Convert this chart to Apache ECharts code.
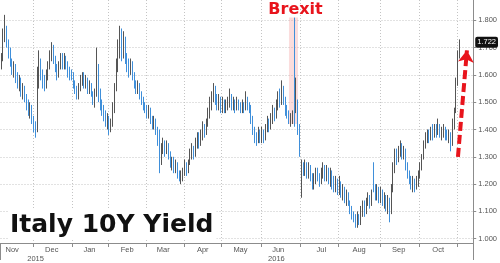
<!DOCTYPE html>
<html><head><meta charset="utf-8">
<script src="https://cdn.jsdelivr.net/npm/echarts@6/dist/echarts.min.js"></script>
<style>html,body{margin:0;padding:0;background:#fff}#c{width:500px;height:263px}</style>
</head><body><div id="c"></div>
<script>
// ---- categories: trading days (weekends and TARGET holidays skipped) ----
const startDate = '2015-11-05';
const endDate = '2016-11-11';
const holidays = ['2015-12-25', '2016-01-01', '2016-03-25', '2016-03-28'];
const monthLabelDates = ['2015-11-13','2015-12-15','2016-01-15','2016-02-15','2016-03-14','2016-04-15','2016-05-16','2016-06-14','2016-07-18','2016-08-16','2016-09-15','2016-10-17'];
const monthLabelNames = ['Nov','Dec','Jan','Feb','Mar','Apr','May','Jun','Jul','Aug','Sep','Oct'];
const yearLabelDates = ['2015-12-02', '2016-06-13'];
const yearLabelNames = ['2015', '2016'];
const yearBoundaryDate = '2016-01-04';
const yTicks = [1.0, 1.1, 1.2, 1.3, 1.4, 1.5, 1.6, 1.7, 1.8];
const yMin = 0.9842, yMax = 1.8744;
const brexitStart = '2016-06-22', brexitEnd = '2016-06-29';
const brexitLow = 1.42, brexitHigh = 1.81;
const arrowFrom = ['2016-11-01', 1.30];
const arrowTo = ['2016-11-08', 1.69];

// ---- Italy 10Y yield daily candles ----
const yieldOpen = [
1.63,1.66,1.74,1.77,1.72,1.68,1.65,1.62,1.63,1.59,1.57,1.58,1.54,1.55,1.51,1.49,1.47,1.48,
1.44,1.41,1.40,1.58,1.64,1.60,1.57,1.56,1.60,1.63,1.67,1.70,1.66,1.63,1.60,1.63,1.66,1.64,1.66,1.63,1.61,1.60,
1.59,1.57,1.55,1.52,1.55,1.58,1.60,1.57,1.58,1.55,1.56,1.53,1.51,1.53,1.62,1.54,1.50,1.47,1.45,1.43,
1.44,1.41,1.42,1.48,1.55,1.63,1.70,1.74,1.68,1.72,1.67,1.63,1.62,1.64,1.60,1.57,1.55,1.56,1.53,1.51,1.49,
1.48,1.46,1.47,1.44,1.42,1.43,1.40,1.37,1.29,1.33,1.35,1.32,1.34,1.31,1.28,1.29,1.26,1.27,1.24,1.22,1.23,
1.25,1.27,1.25,1.28,1.31,1.33,1.31,1.35,1.37,1.35,1.38,1.41,1.39,1.42,1.46,1.49,1.52,1.55,1.51,1.49,1.51,
1.48,1.50,1.47,1.49,1.50,1.52,1.49,1.50,1.48,1.50,1.49,1.47,1.49,1.48,1.51,1.49,1.48,1.44,1.40,1.38,1.36,1.39,
1.37,1.39,1.37,1.40,1.43,1.41,1.44,1.47,1.45,1.49,1.52,1.50,1.54,1.51,1.47,1.45,1.43,1.44,1.45,1.47,1.50,1.40,
1.24,1.27,1.25,1.27,1.24,1.26,1.23,1.20,1.22,1.25,1.23,1.21,1.24,1.26,1.23,1.25,1.22,1.24,1.21,1.19,1.21,
1.18,1.20,1.17,1.18,1.15,1.16,1.13,1.11,1.09,1.07,1.06,1.08,1.06,1.10,1.12,1.10,1.13,1.15,1.13,1.27,1.19,1.16,1.18,
1.15,1.17,1.14,1.15,1.12,1.14,1.10,1.18,1.26,1.31,1.29,1.32,1.34,1.31,1.32,1.27,1.24,1.22,1.20,1.21,1.19,1.21,
1.23,1.26,1.30,1.34,1.37,1.39,1.37,1.40,1.38,1.41,1.39,1.41,1.38,1.39,1.40,1.38,1.37,1.38,1.35,1.42,1.47,1.57,1.67];
const yieldClose = [
1.66,1.74,1.77,1.72,1.68,1.65,1.62,1.63,1.59,1.57,1.58,1.54,1.55,1.51,1.49,1.47,1.48,1.44,
1.41,1.40,1.58,1.64,1.60,1.57,1.56,1.60,1.63,1.67,1.70,1.66,1.63,1.60,1.63,1.66,1.64,1.66,1.63,1.61,1.60,1.59,
1.57,1.55,1.52,1.55,1.58,1.60,1.57,1.58,1.55,1.56,1.53,1.51,1.53,1.62,1.54,1.50,1.47,1.45,1.43,1.44,
1.41,1.42,1.48,1.55,1.63,1.70,1.74,1.68,1.72,1.67,1.63,1.62,1.64,1.60,1.57,1.55,1.56,1.53,1.51,1.49,1.48,
1.46,1.47,1.44,1.42,1.43,1.40,1.37,1.29,1.33,1.35,1.32,1.34,1.31,1.28,1.29,1.26,1.27,1.24,1.22,1.23,1.25,
1.27,1.25,1.28,1.31,1.33,1.31,1.35,1.37,1.35,1.38,1.41,1.39,1.42,1.46,1.49,1.52,1.55,1.51,1.49,1.51,1.48,
1.50,1.47,1.49,1.50,1.52,1.49,1.50,1.48,1.50,1.49,1.47,1.49,1.48,1.51,1.49,1.48,1.44,1.40,1.38,1.36,1.39,1.37,
1.39,1.37,1.40,1.43,1.41,1.44,1.47,1.45,1.49,1.52,1.50,1.54,1.51,1.47,1.45,1.43,1.44,1.45,1.42,1.56,1.40,1.32,
1.27,1.25,1.27,1.24,1.26,1.23,1.20,1.22,1.25,1.23,1.21,1.24,1.26,1.23,1.25,1.22,1.24,1.21,1.19,1.21,1.18,
1.20,1.17,1.18,1.15,1.16,1.13,1.11,1.09,1.07,1.06,1.08,1.06,1.10,1.12,1.10,1.13,1.15,1.13,1.16,1.19,1.16,1.18,1.15,
1.17,1.14,1.15,1.12,1.14,1.09,1.18,1.26,1.31,1.29,1.32,1.34,1.31,1.32,1.27,1.24,1.22,1.20,1.21,1.19,1.21,1.23,
1.26,1.30,1.34,1.37,1.39,1.37,1.40,1.38,1.41,1.39,1.41,1.38,1.39,1.40,1.38,1.37,1.38,1.35,1.42,1.47,1.56,1.66,1.722];
const yieldLow = [
1.62,1.65,1.72,1.70,1.66,1.63,1.60,1.59,1.57,1.55,1.54,1.52,1.51,1.50,1.47,1.45,1.44,1.42,
1.39,1.37,1.39,1.55,1.58,1.55,1.54,1.55,1.58,1.62,1.65,1.64,1.61,1.58,1.59,1.62,1.62,1.62,1.62,1.59,1.58,1.58,
1.55,1.53,1.51,1.51,1.54,1.56,1.55,1.55,1.53,1.53,1.52,1.49,1.48,1.52,1.50,1.47,1.45,1.43,1.41,1.40,
1.38,1.39,1.41,1.46,1.54,1.61,1.66,1.65,1.66,1.64,1.61,1.59,1.60,1.58,1.55,1.53,1.53,1.51,1.49,1.47,1.46,
1.44,1.44,1.42,1.40,1.40,1.38,1.34,1.24,1.27,1.31,1.30,1.31,1.29,1.26,1.25,1.24,1.24,1.22,1.21,1.20,1.21,
1.23,1.23,1.24,1.27,1.29,1.29,1.30,1.33,1.33,1.34,1.36,1.37,1.38,1.41,1.44,1.47,1.50,1.49,1.47,1.47,1.46,
1.46,1.46,1.46,1.47,1.48,1.47,1.47,1.46,1.47,1.47,1.46,1.46,1.46,1.47,1.47,1.46,1.42,1.38,1.35,1.34,1.35,1.35,
1.35,1.35,1.36,1.39,1.39,1.40,1.42,1.43,1.44,1.47,1.48,1.49,1.49,1.45,1.44,1.42,1.41,1.42,1.41,1.46,1.38,1.30,
1.15,1.23,1.23,1.22,1.22,1.21,1.18,1.18,1.20,1.21,1.19,1.20,1.22,1.21,1.21,1.20,1.19,1.18,1.17,1.17,1.16,
1.16,1.15,1.14,1.13,1.12,1.12,1.09,1.07,1.06,1.04,1.04,1.05,1.05,1.08,1.08,1.09,1.12,1.11,1.12,1.17,1.14,1.14,1.13,
1.13,1.12,1.11,1.10,1.09,1.06,1.09,1.17,1.24,1.27,1.28,1.30,1.29,1.29,1.25,1.22,1.20,1.18,1.17,1.17,1.18,1.19,
1.22,1.25,1.29,1.33,1.35,1.35,1.36,1.36,1.37,1.37,1.38,1.37,1.36,1.37,1.36,1.36,1.35,1.32,1.34,1.40,1.46,1.56,1.66];
const yieldHigh = [
1.68,1.77,1.82,1.78,1.73,1.70,1.66,1.65,1.64,1.61,1.60,1.59,1.57,1.56,1.53,1.51,1.50,1.49,
1.45,1.43,1.63,1.69,1.66,1.62,1.60,1.62,1.65,1.69,1.72,1.71,1.67,1.64,1.65,1.68,1.68,1.68,1.67,1.65,1.63,1.62,
1.61,1.58,1.56,1.57,1.60,1.61,1.61,1.60,1.59,1.58,1.57,1.54,1.55,1.70,1.64,1.55,1.51,1.49,1.47,1.46,
1.45,1.44,1.50,1.57,1.66,1.73,1.78,1.77,1.76,1.74,1.68,1.66,1.66,1.65,1.61,1.58,1.58,1.57,1.54,1.52,1.50,
1.49,1.49,1.48,1.45,1.45,1.44,1.41,1.40,1.35,1.37,1.36,1.36,1.35,1.32,1.30,1.30,1.29,1.28,1.25,1.25,1.26,
1.29,1.28,1.29,1.33,1.35,1.34,1.37,1.39,1.39,1.40,1.43,1.42,1.44,1.48,1.52,1.54,1.57,1.56,1.53,1.53,1.52,
1.52,1.51,1.51,1.52,1.55,1.53,1.52,1.51,1.52,1.51,1.50,1.51,1.50,1.54,1.52,1.50,1.49,1.45,1.41,1.39,1.41,1.40,
1.41,1.40,1.42,1.45,1.44,1.46,1.49,1.48,1.51,1.54,1.55,1.58,1.56,1.52,1.49,1.47,1.46,1.47,1.81,1.59,1.51,1.42,
1.29,1.28,1.29,1.28,1.28,1.27,1.24,1.24,1.26,1.26,1.24,1.26,1.28,1.27,1.27,1.26,1.26,1.25,1.23,1.23,1.22,
1.23,1.21,1.20,1.19,1.18,1.17,1.14,1.12,1.10,1.09,1.10,1.09,1.12,1.14,1.14,1.15,1.17,1.16,1.18,1.28,1.20,1.20,1.19,
1.19,1.18,1.17,1.16,1.16,1.15,1.20,1.28,1.33,1.33,1.34,1.36,1.35,1.34,1.33,1.28,1.25,1.23,1.23,1.22,1.23,1.25,
1.28,1.31,1.36,1.39,1.40,1.40,1.41,1.42,1.42,1.42,1.44,1.42,1.41,1.42,1.41,1.40,1.40,1.39,1.44,1.48,1.59,1.69,1.73];

const categories = [];
for (let d = new Date(startDate + 'T00:00:00Z'); d <= new Date(endDate + 'T00:00:00Z'); d.setUTCDate(d.getUTCDate() + 1)) {
  const wd = d.getUTCDay();
  const s = d.toISOString().slice(0, 10);
  if (wd === 0 || wd === 6 || holidays.indexOf(s) >= 0) continue;
  categories.push(s);
}
const candleData = categories.map((c, i) => i < yieldOpen.length ? [yieldOpen[i], yieldClose[i], yieldLow[i], yieldHigh[i]] : '-');
const lastValue = yieldClose[yieldClose.length - 1];
const isMonthStart = (i) => i > 0 && categories[i].slice(0, 7) !== categories[i - 1].slice(0, 7);

const AXIS_FONT = '"Liberation Sans Narrow", "Liberation Sans", Arial, sans-serif';
const chart = echarts.init(document.getElementById('c'), null, {renderer: 'canvas'});
chart.setOption({
  animation: false,
  backgroundColor: '#fff',
  title: {
    text: 'Italy 10Y Yield', left: 8, top: 210, padding: [3, 3, 1, 2], backgroundColor: '#fff',
    textStyle: {fontFamily: 'DejaVu Sans', fontWeight: 'bold', fontSize: 25, color: '#111'}
  },
  grid: {left: 0.5, right: 24.8, top: 0, bottom: 20, containLabel: false},
  xAxis: [{
    type: 'category', data: categories, boundaryGap: true, position: 'bottom',
    axisLine: {show: true, lineStyle: {color: '#8c8c8c', width: 1}},
    axisTick: {show: true, length: 4, interval: (i) => isMonthStart(i), lineStyle: {color: '#8c8c8c'}},
    splitLine: {show: true, interval: (i) => isMonthStart(i), lineStyle: {color: '#c4c4c4', type: [1, 2], width: 1}},
    axisLabel: {
      interval: (i, v) => monthLabelDates.indexOf(v) >= 0,
      formatter: (v) => monthLabelNames[monthLabelDates.indexOf(v)] || '',
      margin: 3, fontSize: 7.5, color: '#555', fontFamily: AXIS_FONT
    }
  }, {
    type: 'category', data: categories, boundaryGap: true, position: 'bottom',
    axisLine: {show: false},
    axisTick: {show: true, length: 17, interval: (i, v) => v === yearBoundaryDate, lineStyle: {color: '#8c8c8c'}},
    splitLine: {show: false},
    axisLabel: {
      interval: (i, v) => yearLabelDates.indexOf(v) >= 0,
      formatter: (v) => yearLabelNames[yearLabelDates.indexOf(v)] || '',
      margin: 11.5, fontSize: 7.5, color: '#555', fontFamily: AXIS_FONT
    }
  }],
  yAxis: {
    type: 'value', position: 'right', min: yMin, max: yMax, scale: true,
    axisLine: {show: true, lineStyle: {color: '#8c8c8c', width: 1}},
    axisTick: {show: true, length: 3, customValues: yTicks, lineStyle: {color: '#8c8c8c'}},
    splitLine: {show: true, lineStyle: {color: '#c4c4c4', type: [1, 2], width: 1}},
    axisLabel: {customValues: yTicks, formatter: (v) => v.toFixed(3), margin: 5, fontSize: 7.5, color: '#555', fontFamily: AXIS_FONT}
  },
  series: [{
    type: 'candlestick',
    xAxisIndex: 0,
    data: candleData,
    clip: false,
    itemStyle: {color: '#555555', borderColor: '#555555', color0: '#3f8fda', borderColor0: '#3f8fda', borderWidth: 1},
    markArea: {
      silent: true,
      itemStyle: {color: 'rgba(243,150,150,0.32)'},
      label: {show: true, position: 'top', distance: 0, color: '#e8141c', fontSize: 16, fontWeight: 'bold', fontFamily: 'DejaVu Sans', offset: [2, 0]},
      data: [[{name: 'Brexit', xAxis: brexitStart, yAxis: brexitLow}, {xAxis: brexitEnd, yAxis: brexitHigh}]]
    },
    markLine: {
      silent: true, symbol: ['none', 'none'],
      lineStyle: {color: '#e8141c', width: 4, type: [9, 4]},
      label: {show: false},
      data: [
        [{coord: arrowFrom, symbol: 'none'},
         {coord: arrowTo, symbol: 'arrow', symbolSize: 12}]
      ]
    }
  }, {
    type: 'line',
    xAxisIndex: 0,
    data: [],
    markLine: {
      silent: true, symbol: ['none', 'none'],
      lineStyle: {color: 'rgba(0,0,0,0)', width: 0},
      label: {show: true, position: 'end', distance: 2, formatter: () => lastValue.toFixed(3),
              backgroundColor: '#111', color: '#fff', padding: [2, 2, 1, 2], borderRadius: 2,
              fontSize: 7.5, fontFamily: AXIS_FONT},
      data: [{yAxis: lastValue}]
    }
  }]
});
</script></body></html>
